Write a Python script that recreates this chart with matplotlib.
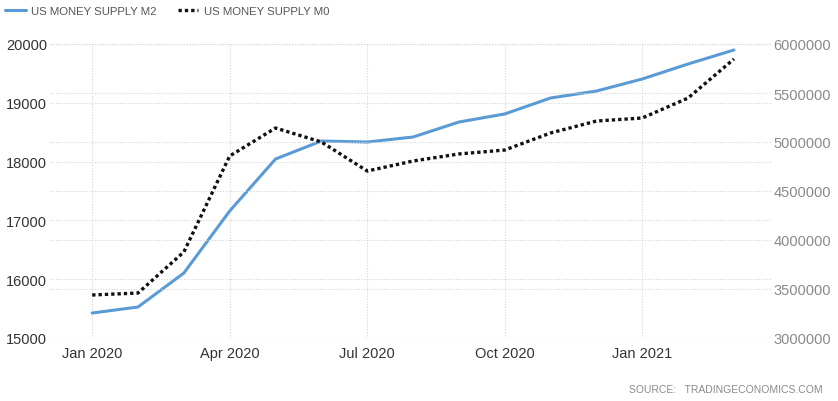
import matplotlib
matplotlib.use("Agg")
import matplotlib.pyplot as plt

months = ["Jan 2020", "Feb 2020", "Mar 2020", "Apr 2020", "May 2020", "Jun 2020",
          "Jul 2020", "Aug 2020", "Sep 2020", "Oct 2020", "Nov 2020", "Dec 2020",
          "Jan 2021", "Feb 2021", "Mar 2021"]
m2 = [15425, 15527, 16105, 17160, 18044, 18350, 18333, 18418, 18673, 18810,
      19082, 19200, 19405, 19660, 19898]
m0 = [3439000, 3459000, 3878000, 4857000, 5143000, 5000000, 4704000, 4806000,
      4878000, 4918000, 5092000, 5214000, 5245000, 5449000, 5847000]
xtick_labels = ["Jan 2020", "Apr 2020", "Jul 2020", "Oct 2020", "Jan 2021"]
left_ticks = [15000, 16000, 17000, 18000, 19000, 20000]
right_ticks = [3000000, 3500000, 4000000, 4500000, 5000000, 5500000, 6000000]

plt.rcParams['font.family'] = ['Liberation Sans', 'DejaVu Sans']

fig = plt.figure(figsize=(8.38, 4.02), dpi=100)
L, R, B, T = 50/838, 772/838, 1-339/402, 1-45/402
ax = fig.add_axes([L, B, R-L, T-B])
ax2 = ax.twinx()

x = list(range(len(months)))
grid_kw = dict(color="#d4d4d4", linestyle=(0, (1, 1.5)), linewidth=0.8)

ax.set_xlim(-0.92, 14.83)
ax.set_ylim(15000, 20000)
ax2.set_ylim(3000000, 6000000)

for s in ax.spines.values():
    s.set_visible(False)
for s in ax2.spines.values():
    s.set_visible(False)

ax.set_yticks(left_ticks)
ax.set_yticklabels([str(v) for v in left_ticks], fontsize=10.5, color="#333333")
ax2.set_yticks(right_ticks)
ax2.set_yticklabels([str(v) for v in right_ticks], fontsize=10.5, color="#8a8a8a")
xt = [months.index(m) for m in xtick_labels]
ax.set_xticks(xt)
ax.set_xticklabels(xtick_labels, fontsize=10.5, color="#333333")
ax.tick_params(axis="both", length=0, pad=3)
ax.tick_params(axis="y", pad=2)
ax2.tick_params(axis="y", length=0, pad=1)
ax.tick_params(axis="x", pad=6)

ax.grid(True, axis="both", **grid_kw)
ax2.grid(True, axis="y", **grid_kw)
ax.set_axisbelow(True)
ax2.set_axisbelow(True)

l1, = ax.plot(x, m2, color="#5b9bd5", linewidth=2.2, zorder=5, solid_capstyle="round")
l2, = ax2.plot(x, m0, color="#111111", linewidth=2.4, linestyle=(0, (1, 0.9)), zorder=6)

# legend at top
fig.legend([l1, l2], ["US MONEY SUPPLY M2", "US MONEY SUPPLY M0"],
           loc="upper left", bbox_to_anchor=(-0.006, 1.008), ncol=2, frameon=False,
           fontsize=8.2, handlelength=1.8, handletextpad=0.45, columnspacing=1.9,
           labelcolor="#555555")

fig.text(823/838, 1-390/402, "SOURCE:   TRADINGECONOMICS.COM", ha="right", va="center",
         fontsize=7.5, color="#8a8a8a")

fig.savefig("out.png", dpi=100, facecolor="white")
